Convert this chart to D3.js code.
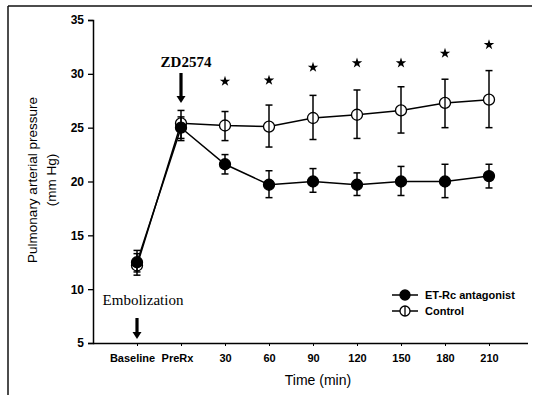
<!DOCTYPE html>
<html>
<head>
<meta charset="utf-8">
<script src="https://cdn.jsdelivr.net/npm/d3@7"></script>
<style>
  body { margin: 0; background: #fff; }
</style>
</head>
<body>
<svg id="chart" width="535" height="395" font-family="Liberation Sans, Arial, sans-serif"></svg>
<script>
// data
const categories = ['Baseline', 'PreRx', '30', '60', '90', '120', '150', '180', '210'];
const antagonistMean = [12.5, 25.0, 21.6, 19.7, 20.0, 19.7, 20.0, 20.0, 20.5];
const antagonistLow  = [11.6, 24.0, 20.7, 18.5, 19.0, 18.7, 18.7, 18.5, 19.4];
const antagonistHigh = [13.3, 26.0, 22.5, 21.0, 21.2, 20.8, 21.4, 21.6, 21.6];
const controlMean = [12.2, 25.4, 25.2, 25.1, 25.9, 26.2, 26.6, 27.3, 27.6];
const controlLow  = [11.3, 23.8, 23.8, 23.2, 23.9, 24.0, 24.5, 25.0, 25.0];
const controlHigh = [13.6, 26.6, 26.5, 27.1, 28.0, 28.5, 28.8, 29.5, 30.3];
const starCats = ['30', '60', '90', '120', '150', '180', '210'];
const starValues = [29.3, 29.4, 30.6, 31.0, 31.0, 31.9, 32.7];
const yTicks = [5, 10, 15, 20, 25, 30, 35];

const svg = d3.select('#chart');
const serif = '"Liberation Serif", "Times New Roman", serif';

// scanned page frame
svg.append('line').attr('x1', 8).attr('y1', 6).attr('x2', 8).attr('y2', 395)
  .attr('stroke', '#111').attr('stroke-width', 1.5);
svg.append('line').attr('x1', 8).attr('y1', 6).attr('x2', 532).attr('y2', 6)
  .attr('stroke', '#111').attr('stroke-width', 1.5);

const x = d3.scalePoint().domain(categories).range([137, 489]);
const y = d3.scaleLinear().domain([5, 35]).range([343, 20]);

// axes
const yAxis = svg.append('g')
  .attr('transform', 'translate(93,0)')
  .call(d3.axisLeft(y).tickValues(yTicks).tickSize(5).tickPadding(4));
yAxis.select('.domain').attr('stroke-width', 1.5);
yAxis.selectAll('.tick line').attr('stroke-width', 1.3);
yAxis.selectAll('text').attr('font-size', 12).attr('font-weight', 'bold').attr('fill', '#000')
  .style('font-family', 'Liberation Sans, Arial, sans-serif');

const xAxis = svg.append('g')
  .attr('transform', 'translate(0,343)')
  .call(d3.axisBottom(x).tickSize(3).tickPadding(8).tickSizeOuter(0));
xAxis.select('.domain').attr('d', 'M93,0.5H528').attr('stroke-width', 1.5);
xAxis.selectAll('text').attr('font-size', 11).attr('font-weight', 'bold').attr('fill', '#000')
  .style('font-family', 'Liberation Sans, Arial, sans-serif')
  .attr('dx', d => d === 'Baseline' ? -5 : (d === 'PreRx' ? -4 : 0));

// axis titles
svg.append('text')
  .attr('transform', 'translate(37,180) rotate(-90)')
  .attr('text-anchor', 'middle').attr('font-size', 13.5)
  .text('Pulmonary arterial pressure');
svg.append('text')
  .attr('transform', 'translate(56,180) rotate(-90)')
  .attr('text-anchor', 'middle').attr('font-size', 13.5)
  .text('(mm Hg)');
svg.append('text')
  .attr('x', 318).attr('y', 385)
  .attr('text-anchor', 'middle').attr('font-size', 14)
  .text('Time (min)');

// series
const series = [
  { name: 'Control', mean: controlMean, low: controlLow, high: controlHigh, fill: '#fff' },
  { name: 'ET-Rc antagonist', mean: antagonistMean, low: antagonistLow, high: antagonistHigh, fill: '#000' }
];

const line = d3.line().x((d, i) => x(categories[i])).y(d => y(d));

series.forEach(s => {
  const g = svg.append('g');
  g.append('path').datum(s.mean).attr('d', line)
    .attr('fill', 'none').attr('stroke', '#000').attr('stroke-width', 1.5);

  // error bars
  const eb = g.selectAll('.eb').data(categories).enter().append('g');
  eb.append('line')
    .attr('x1', d => x(d)).attr('x2', d => x(d))
    .attr('y1', (d, i) => y(s.low[i])).attr('y2', (d, i) => y(s.high[i]))
    .attr('stroke', '#000').attr('stroke-width', 1.5);
  eb.append('line')
    .attr('x1', d => x(d) - 3.5).attr('x2', d => x(d) + 3.5)
    .attr('y1', (d, i) => y(s.low[i])).attr('y2', (d, i) => y(s.low[i]))
    .attr('stroke', '#000').attr('stroke-width', 1.5);
  eb.append('line')
    .attr('x1', d => x(d) - 3.5).attr('x2', d => x(d) + 3.5)
    .attr('y1', (d, i) => y(s.high[i])).attr('y2', (d, i) => y(s.high[i]))
    .attr('stroke', '#000').attr('stroke-width', 1.5);

  g.selectAll('circle').data(s.mean).enter().append('circle')
    .attr('cx', (d, i) => x(categories[i])).attr('cy', d => y(d))
    .attr('r', 5.5).attr('fill', s.fill).attr('stroke', '#000').attr('stroke-width', 1.3);
  if (s.fill === '#fff') {
    // vertical stroke through open markers
    g.selectAll('.through').data(s.mean).enter().append('line')
      .attr('x1', (d, i) => x(categories[i])).attr('x2', (d, i) => x(categories[i]))
      .attr('y1', d => y(d) - 5.5).attr('y2', d => y(d) + 5.5)
      .attr('stroke', '#000').attr('stroke-width', 1.3);
  }
});

// significance stars
svg.selectAll('.star').data(starCats).enter().append('path')
  .attr('transform', (d, i) => `translate(${x(d)},${y(starValues[i])})`)
  .attr('d', d3.symbol().type(d3.symbolStar).size(34))
  .attr('fill', '#000');

// annotations
function arrow(cx, y1, y2) {
  svg.append('line').attr('x1', cx).attr('x2', cx).attr('y1', y1).attr('y2', y2 - 5)
    .attr('stroke', '#000').attr('stroke-width', 3.2);
  svg.append('path')
    .attr('d', `M${cx - 4.5},${y2 - 7}L${cx + 4.5},${y2 - 7}L${cx},${y2}Z`)
    .attr('fill', '#000');
}
svg.append('text').attr('x', 186).attr('y', 67).attr('text-anchor', 'middle')
  .style('font-family', serif)
  .attr('font-size', 15).attr('font-weight', 'bold').text('ZD2574');
arrow(x('PreRx'), 73, 103);
svg.append('text').attr('x', 143).attr('y', 305).attr('text-anchor', 'middle')
  .style('font-family', serif)
  .attr('font-size', 15).text('Embolization');
arrow(x('Baseline'), 318, 339);

// legend
const legend = svg.append('g').attr('transform', 'translate(392,295)');
series.slice().reverse().forEach((s, i) => {
  const row = legend.append('g').attr('transform', `translate(0,${i * 16})`);
  row.append('line').attr('x1', 0).attr('x2', 26).attr('y1', 0).attr('y2', 0)
    .attr('stroke', '#000').attr('stroke-width', 1.5);
  row.append('circle').attr('cx', 13).attr('cy', 0).attr('r', 5)
    .attr('fill', s.fill).attr('stroke', '#000').attr('stroke-width', 1.3);
  if (s.fill === '#fff') {
    row.append('line').attr('x1', 13).attr('x2', 13).attr('y1', -5).attr('y2', 5)
      .attr('stroke', '#000').attr('stroke-width', 1.3);
  }
  row.append('text').attr('x', 33).attr('y', 4).attr('font-size', 11).attr('font-weight', 'bold')
    .text(s.name);
});
</script>
</body>
</html>
